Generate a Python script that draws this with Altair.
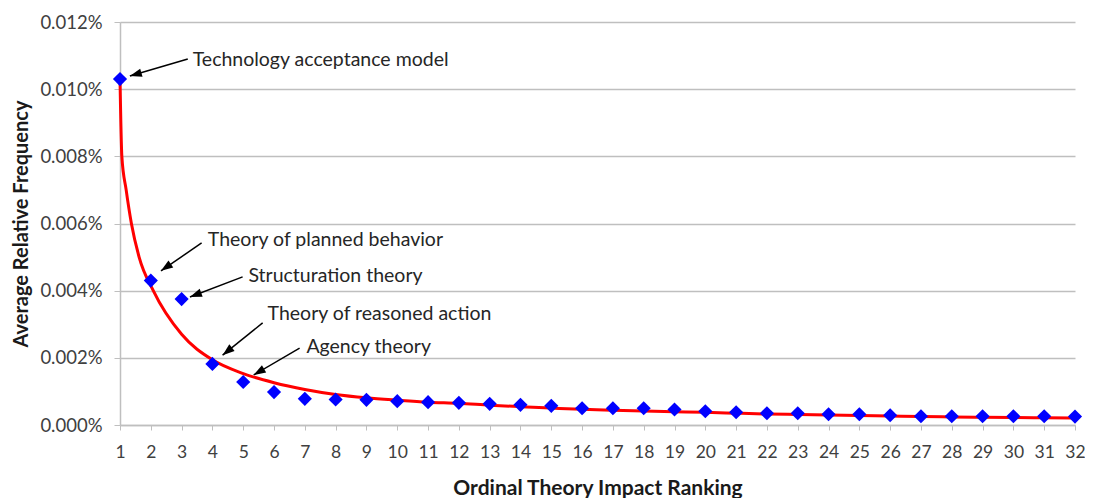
import math
import altair as alt
import pandas as pd

# ---- data (values in percent) ----
ranks = list(range(1, 33))
values = [0.0103, 0.0043, 0.00375, 0.00182, 0.00128, 0.00098, 0.00078, 0.00076,
          0.00075, 0.00071, 0.00068, 0.00066, 0.00063, 0.0006, 0.00057, 0.0005,
          0.0005, 0.0005, 0.00046, 0.00041, 0.00038, 0.00035, 0.00035, 0.00032,
          0.00032, 0.00029, 0.00026, 0.00026, 0.00026, 0.00026, 0.00026, 0.00025]

# trend curve
curve_x = [1, 1.06, 1.2, 1.37, 1.62, 2.08, 3, 4, 5, 6, 7, 8, 9, 10, 11, 12, 13, 14,
           15, 16, 17, 18, 19, 20, 21, 22, 23, 24, 25, 26, 27, 28, 29, 30, 31, 32]
curve_y = [0.0103, 0.0080, 0.0070, 0.0060, 0.0050, 0.0040, 0.0027, 0.00194, 0.00153,
           0.00126, 0.00106, 0.00091, 0.00081, 0.00074, 0.00068, 0.000646, 0.00059,
           0.000545, 0.000505, 0.000467, 0.00044, 0.000417, 0.000397, 0.000378,
           0.000352, 0.000328, 0.000313, 0.000298, 0.000283, 0.000268, 0.000253,
           0.00024, 0.000232, 0.000225, 0.000215, 0.000205]

ann_labels = ["Technology acceptance model", "Theory of planned behavior",
              "Structuration theory", "Theory of reasoned action", "Agency theory"]
ann_text_x = [3.36, 3.85, 5.17, 5.79, 7.05]
ann_text_y = [0.01087, 0.00551, 0.00444, 0.00330, 0.00232]
ann_tail_x = [3.20, 3.65, 4.98, 5.63, 6.83]
ann_tail_y = [0.01090, 0.00542, 0.00441, 0.00304, 0.00229]
ann_tip_x = [1.32, 2.33, 3.27, 4.33, 5.34]
ann_tip_y = [0.01039, 0.00459, 0.00381, 0.00208, 0.00149]

y_ticks = [0.0, 0.002, 0.004, 0.006, 0.008, 0.010, 0.012]

W, H = 955, 403
XDOM = [1, 32]
YDOM = [0, 0.012]
FONT = "Lato"

df = pd.DataFrame({"rank": ranks, "value": values})
cdf = pd.DataFrame({"cx": curve_x, "cy": curve_y})

# arrow head angle from pixel direction
angles = []
for tx, ty, hx, hy in zip(ann_tail_x, ann_tail_y, ann_tip_x, ann_tip_y):
    dx = (hx - tx) * W / (XDOM[1] - XDOM[0])
    dy = -(hy - ty) * H / (YDOM[1] - YDOM[0])
    angles.append((math.degrees(math.atan2(dx, -dy)) + 360) % 360)

ann = pd.DataFrame({
    "label": ann_labels, "tx": ann_text_x, "ty": ann_text_y,
    "x1": ann_tail_x, "y1": ann_tail_y, "x2": ann_tip_x, "y2": ann_tip_y,
    "angle": angles,
})

xs = alt.Scale(domain=XDOM, nice=False, zero=False)
ys = alt.Scale(domain=YDOM, nice=False)

X_TITLE = "Ordinal Theory Impact Ranking"
Y_TITLE = "Average Relative Frequency"

x_axis = alt.Axis(values=ranks, title=X_TITLE, grid=False,
                  tickSize=5, labelPadding=13, titlePadding=17, labelOverlap=False,
                  labelFlush=False, labelBound=False,
                  labelFontSize=17.5, titleFontSize=21, titleFontWeight="bold")
y_axis = alt.Axis(values=y_ticks, title=Y_TITLE,
                  labelExpr="format(datum.value, '.3f') + '%'",
                  tickSize=6, labelPadding=12, labelFlush=False,
                  titleX=-99, titleY=H / 2, titleBaseline="middle", titleAlign="center",
                  titleAngle=270,
                  labelFontSize=18.5, titleFontSize=20, titleFontWeight="bold")


def X(field):
    return alt.X(field, scale=xs, axis=x_axis, title=X_TITLE)


def Y(field):
    return alt.Y(field, scale=ys, axis=y_axis, title=Y_TITLE)


trend = alt.Chart(cdf).mark_line(
    color="#ff0000", strokeWidth=3, interpolate="monotone"
).encode(x=X("cx:Q"), y=Y("cy:Q"))

pts = alt.Chart(df).mark_point(shape="diamond", filled=True, color="#0000ff", size=200,
                              opacity=1).encode(x=X("rank:Q"), y=Y("value:Q"))

abase = alt.Chart(ann)
rules = abase.mark_rule(color="black", strokeWidth=1.5).encode(
    x=X("x1:Q"), y=Y("y1:Q"), x2="x2:Q", y2="y2:Q",
)
heads = abase.mark_point(shape="M0,0L0.7,2L-0.7,2Z", filled=True, color="black",
                         size=144, opacity=1).encode(
    x=X("x2:Q"), y=Y("y2:Q"),
    angle=alt.Angle("angle:Q", scale=None),
)
texts = abase.mark_text(align="left", baseline="middle", fontSize=19.5, color="#262626",
                        font=FONT).encode(
    x=X("tx:Q"), y=Y("ty:Q"), text="label:N",
)

chart = alt.layer(trend, pts, rules, heads, texts).properties(
    width=W, height=H,
    autosize=alt.AutoSizeParams(type="none"),
    padding={"left": 112, "top": 14, "right": 10, "bottom": 73},
).configure_view(stroke=None).configure_axis(
    labelFont=FONT, titleFont=FONT, labelColor="#404040", titleColor="#1a1a1a",
    domainColor="#bfbfbf", tickColor="#bfbfbf", gridColor="#bfbfbf",
    domainWidth=1.5, gridWidth=1.5,
).configure_axisX(labelOverlap=False)

chart.save("out.html", embed_options={"renderer": "svg", "actions": False})
